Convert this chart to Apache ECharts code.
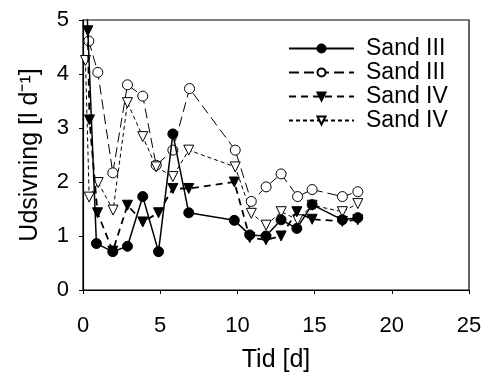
<!DOCTYPE html>
<html>
<head>
<meta charset="utf-8">
<script src="https://cdn.jsdelivr.net/npm/echarts@6/dist/echarts.min.js"></script>
<style>
  html, body { margin: 0; padding: 0; background: #fff; }
  #chart { width: 485px; height: 374px; }
</style>
</head>
<body>
<div id="chart"></div>
<script>
// Seepage over time for two sand types, two columns each
const sand3FilledDays = [0.2, 0.87, 1.93, 2.88, 3.87, 4.89, 5.82, 6.85, 9.8, 10.8, 11.85, 12.83, 13.85, 14.84, 16.8, 17.8];
const sand3FilledFlux = [5.6, 0.86, 0.71, 0.81, 1.73, 0.71, 2.89, 1.43, 1.29, 1.02, 1.0, 1.3, 1.14, 1.58, 1.3, 1.34];

const sand3OpenDays = [0.38, 0.96, 1.93, 2.88, 3.87, 4.74, 5.82, 6.9, 9.86, 10.9, 11.86, 12.83, 13.9, 14.84, 16.8, 17.8];
const sand3OpenFlux = [4.61, 4.03, 2.17, 3.8, 3.59, 2.31, 2.59, 3.73, 2.59, 1.64, 1.91, 2.15, 1.73, 1.86, 1.73, 1.82];

const sand4FilledDays = [0.31, 0.42, 0.94, 1.93, 2.88, 3.87, 4.89, 5.82, 6.85, 9.8, 10.8, 11.85, 12.83, 13.85, 14.84, 16.8, 17.8];
const sand4FilledFlux = [4.8, 3.15, 1.43, 0.72, 1.57, 1.26, 1.43, 1.88, 1.88, 2.0, 0.97, 0.93, 1.0, 1.45, 1.31, 1.27, 1.3];

const sand4OpenDays = [0.16, 0.4, 0.98, 1.95, 2.88, 3.87, 4.74, 5.82, 6.85, 9.86, 10.9, 11.86, 12.84, 13.9, 14.84, 16.8, 17.8];
const sand4OpenFlux = [4.25, 1.72, 1.99, 1.48, 3.47, 2.84, 2.28, 2.1, 2.59, 2.28, 1.42, 1.2, 1.45, 1.3, 1.57, 1.45, 1.6];

const xTicks = [0, 5, 10, 15, 20, 25];
const yTicks = [0, 1, 2, 3, 4, 5];
const legendLabels = ['Sand III', 'Sand III', 'Sand IV', 'Sand IV'];

const FONT = 'Liberation Sans, Arial, Helvetica, sans-serif';

function pairs(xs, ys) { return xs.map((x, i) => [x, ys[i]]); }

const chart = echarts.init(document.getElementById('chart'), null, { renderer: 'canvas' });

const seriesKeys = ['s3f', 's3o', 's4f', 's4o'];

chart.setOption({
  backgroundColor: '#ffffff',
  animation: false,
  grid: {
    left: 83, right: 16, top: 20, bottom: 84,
    outerBoundsMode: 'none',
    show: true, borderColor: '#000', borderWidth: 1.2
  },
  xAxis: {
    type: 'value', min: xTicks[0], max: xTicks[xTicks.length - 1], interval: 5,
    name: 'Tid [d]', nameLocation: 'middle', nameGap: 58,
    nameTextStyle: { fontFamily: FONT, fontSize: 25, color: '#000' },
    axisLine: { lineStyle: { color: '#000', width: 1.2 } },
    axisTick: { inside: false, length: 4, lineStyle: { color: '#000' } },
    axisLabel: { fontFamily: FONT, fontSize: 22, color: '#000', margin: 25 },
    splitLine: { show: false }
  },
  yAxis: {
    type: 'value', min: yTicks[0], max: yTicks[yTicks.length - 1], interval: 1,
    name: 'Udsivning [l d\u207B\u00B9]', nameLocation: 'middle', nameGap: 40, nameRotate: 90,
    nameTextStyle: { fontFamily: FONT, fontSize: 25, color: '#000' },
    axisLine: { lineStyle: { color: '#000', width: 1.2 } },
    axisTick: { inside: false, length: 4, lineStyle: { color: '#000' } },
    axisLabel: { fontFamily: FONT, fontSize: 22, color: '#000', margin: 14 },
    splitLine: { show: false }
  },
  legend: {
    orient: 'vertical', left: 283, top: 32,
    itemWidth: 65, itemHeight: 10, itemGap: 1,
    data: seriesKeys,
    formatter: name => legendLabels[seriesKeys.indexOf(name)],
    textStyle: { fontFamily: FONT, fontSize: 23, color: '#000', padding: [0, 0, 0, 7] }
  },
  series: [
    {
      name: 's3f', type: 'line', data: pairs(sand3FilledDays, sand3FilledFlux),
      symbol: 'circle', symbolSize: 10,
      lineStyle: { color: '#000', width: 1.5, type: 'solid' },
      itemStyle: { color: '#000', borderColor: '#000', borderWidth: 1 }, z: 4
    },
    {
      name: 's3o', type: 'line', data: pairs(sand3OpenDays, sand3OpenFlux),
      symbol: 'circle', symbolSize: 10,
      lineStyle: { color: '#000', width: 1, type: [10, 5] },
      itemStyle: { color: '#fff', borderColor: '#000', borderWidth: 1 }, z: 3
    },
    {
      name: 's4f', type: 'line', data: pairs(sand4FilledDays, sand4FilledFlux),
      symbol: 'triangle', symbolSize: 10, symbolRotate: 180,
      lineStyle: { color: '#000', width: 1.8, type: [7, 5] },
      itemStyle: { color: '#000', borderColor: '#000', borderWidth: 1 }, z: 5
    },
    {
      name: 's4o', type: 'line', data: pairs(sand4OpenDays, sand4OpenFlux),
      symbol: 'triangle', symbolSize: 10, symbolRotate: 180,
      lineStyle: { color: '#000', width: 1, type: [4, 3] },
      itemStyle: { color: '#fff', borderColor: '#000', borderWidth: 1 }, z: 3
    }
  ]
});
</script>
</body>
</html>
